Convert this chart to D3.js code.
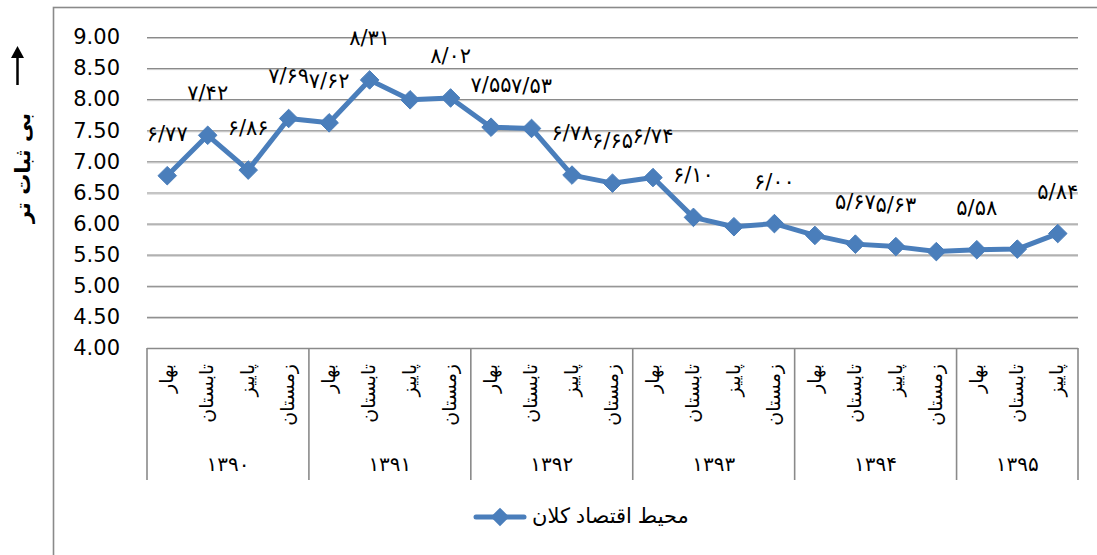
<!DOCTYPE html>
<html><head><meta charset="utf-8">
<script src="https://cdn.jsdelivr.net/npm/d3@7"></script>
<style>body{margin:0;background:#fff}</style>
</head><body>
<script>
const years = ["۱۳۹۰","۱۳۹۱","۱۳۹۲","۱۳۹۳","۱۳۹۴","۱۳۹۵"];
const seasons = ["بهار","تابستان","پاییز","زمستان"];
const yearSeasonCounts = [4,4,4,4,4,3];
const values = [6.77,7.42,6.86,7.69,7.62,8.31,7.99,8.02,7.55,7.53,6.78,6.65,6.74,6.10,5.95,6.00,5.81,5.67,5.63,5.55,5.58,5.59,5.84];
const showLabel = [1,1,1,1,1,1,0,1,1,1,1,1,1,1,0,1,0,1,1,0,1,0,1];
const yTicks = [4.0,4.5,5.0,5.5,6.0,6.5,7.0,7.5,8.0,8.5,9.0];
const seriesName = "محیط اقتصاد کلان";
const axisTitle = "بی ثبات تر";

const W=1097,H=555;
const L=147,R=1078,T=37,B=348;
const blue="#4a7ebb", grid="#8a8a8a";
const fa = s => s.replace(/\d/g,d=>"۰۱۲۳۴۵۶۷۸۹"[+d]).replace(".","/");

const cats=[]; yearSeasonCounts.forEach((n,yi)=>{for(let k=0;k<n;k++)cats.push({yi,s:seasons[k]});});
const x=d3.scaleBand().domain(d3.range(cats.length)).range([L,R]);
const cx=i=>x(i)+x.bandwidth()/2;
const y=d3.scaleLinear().domain([4,9]).range([B,T]);

const svg=d3.select("body").append("svg").attr("width",W).attr("height",H).style("font-family","'DejaVu Sans',sans-serif");
svg.append("rect").attr("width",W).attr("height",H).attr("fill","#fff");
svg.append("rect").attr("x",53.5).attr("y",7.5).attr("width",1100).attr("height",600).attr("fill","none").attr("stroke",grid).attr("stroke-width",1.6);

yTicks.filter(t=>t>4).forEach(t=>{
  svg.append("line").attr("x1",L).attr("x2",R).attr("y1",y(t)+0.5).attr("y2",y(t)+0.5).attr("stroke",grid).attr("stroke-width",1.2);
  svg.append("line").attr("x1",L).attr("x2",R).attr("y1",y(t)+1.5).attr("y2",y(t)+1.5).attr("stroke","#c8c8c8").attr("stroke-width",1);
});
const ya=svg.append("g").attr("transform",`translate(${L},0)`).call(d3.axisLeft(y).tickValues(yTicks).tickFormat(d3.format(".2f")).tickSize(0).tickPadding(27));
ya.select(".domain").remove();
ya.selectAll("text").attr("font-size",21).attr("font-family","'DejaVu Sans',sans-serif").attr("fill","#000");

svg.append("line").attr("x1",L).attr("x2",R).attr("y1",B+0.5).attr("y2",B+0.5).attr("stroke",grid).attr("stroke-width",1.5);
let acc=0; const bounds=[0];
yearSeasonCounts.forEach(n=>{acc+=n;bounds.push(acc);});
bounds.forEach(b=>{
  const xx = b<cats.length ? x(b) : R;
  svg.append("line").attr("x1",xx).attr("x2",xx).attr("y1",B).attr("y2",480).attr("stroke",grid).attr("stroke-width",1.6);
});
cats.forEach((c,i)=>{
  svg.append("text").attr("transform",`translate(${cx(i)},364) rotate(-90)`)
    .attr("text-anchor","end").attr("dy","0.3em").attr("font-size",19).attr("fill","#000").text(c.s);
});
years.forEach((yr,k)=>{
  const x0=x(bounds[k]), x1= bounds[k+1]<cats.length? x(bounds[k+1]) : R;
  svg.append("text").attr("x",(x0+x1)/2).attr("y",465).attr("text-anchor","middle").attr("dominant-baseline","middle")
    .attr("font-size",20).attr("letter-spacing",2).attr("fill","#000").text(yr);
});

const line=d3.line().x((d,i)=>cx(i)).y(d=>y(d));
svg.append("path").datum(values).attr("d",line).attr("fill","none").attr("stroke",blue).attr("stroke-width",5).attr("stroke-linejoin","round");
const diamond=d3.symbol().type(d3.symbolDiamond2).size(220);
svg.selectAll(".mk").data(values).enter().append("path").attr("transform",(d,i)=>`translate(${cx(i)},${y(d)})`).attr("d",diamond).attr("fill",blue).attr("stroke",blue).attr("stroke-width",1);

values.forEach((v,i)=>{
  if(!showLabel[i])return;
  svg.append("text").attr("x",cx(i)).attr("y",y(v)-41).attr("text-anchor","middle").attr("dominant-baseline","middle")
    .attr("font-size",21).attr("fill","#000").text(fa(v.toFixed(2)));
});

svg.append("text").attr("transform","translate(24,168) rotate(-90)").attr("text-anchor","middle").attr("dominant-baseline","middle")
  .attr("font-size",21).attr("font-weight","bold").attr("fill","#000").text(axisTitle);
svg.append("line").attr("x1",17.5).attr("x2",17.5).attr("y1",57).attr("y2",85).attr("stroke","#000").attr("stroke-width",2.5);
svg.append("path").attr("d","M17.5,46 L11,58 L24,58 Z").attr("fill","#000");

svg.append("line").attr("x1",476).attr("x2",524).attr("y1",517).attr("y2",517).attr("stroke",blue).attr("stroke-width",5).attr("stroke-linecap","round");
svg.append("path").attr("transform","translate(500,517)").attr("d",diamond).attr("fill",blue);
svg.append("text").attr("x",532).attr("y",517).attr("dominant-baseline","middle").attr("font-size",21)
  .attr("font-family","'Liberation Sans','DejaVu Sans',sans-serif").attr("fill","#000").text(seriesName);
</script>
</body></html>
